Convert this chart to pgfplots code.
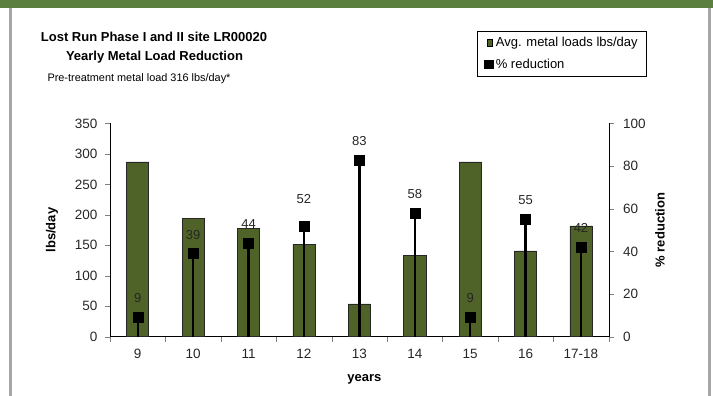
\documentclass[border=0pt]{standalone}
\usepackage{fontspec}
\setmainfont{Liberation Sans}
\usepackage{pgfplots}
\pgfplotsset{compat=1.18}
\definecolor{barolive}{HTML}{4F6228}
\definecolor{topgreen}{HTML}{5B7F3E}
\definecolor{framegray}{HTML}{A6A6A6}

\pgfplotsset{
  common/.style={
    at={(110pt,59.3pt)}, anchor=south west,
    scale only axis, width=498.7pt, height=213.2pt,
    xmin=-0.5, xmax=8.5,
    tick align=outside,
    major tick length=5pt,
    /pgf/number format/assume math mode=true,
    tick label style={font=\fontsize{13.5}{15}\selectfont, text=black!85},
    label style={font=\fontsize{13}{15}\selectfont\bfseries},
  }
}

\begin{document}
\begin{tikzpicture}[x=1pt,y=1pt]
\path[use as bounding box] (0,0) rectangle (713,396);
\fill[topgreen] (0,388) rectangle (713,396);
\fill[framegray] (9,0) rectangle (12,388);
\fill[framegray] (708,0) rectangle (711,388);

\node[font=\fontsize{13}{15}\selectfont\bfseries] at (154,359.3) {Lost Run Phase I and II site LR00020};
\node[font=\fontsize{13}{15}\selectfont\bfseries] at (154.5,339.3) {Yearly Metal Load Reduction};
\node[font=\fontsize{10.9}{12}\selectfont] at (139,317) {Pre-treatment metal load 316 lbs/day*};

% average metal load, left axis
\begin{axis}[common,
  axis x line*=bottom, axis y line*=left,
  ymin=0, ymax=350, ytick={0,50,...,350},
  xtick={0,...,8}, xticklabels={9,10,11,12,13,14,15,16,17-18},
  major x tick style={draw=none},
  minor xtick={-0.5,0.5,...,8.5}, minor tick length=5pt,
  xticklabel style={yshift=-4pt},
  yticklabel style={xshift=-4pt},
  ylabel={lbs/day}, xlabel={years},
  ylabel style={at={(axis description cs:-0.1163,0.5)}, anchor=center},
  xlabel style={at={(axis description cs:0.51,-0.2017)}, anchor=center},
]
\addplot[ybar, bar width=0.4, fill=barolive, draw=black!85, line width=0.6pt]
  coordinates {(0,287) (1,194) (2,178) (3,152) (4,54) (5,133) (6,287) (7,141) (8,182)};
\end{axis}

% percent reduction, right axis
\begin{axis}[common,
  axis y line*=right, axis x line=none,
  ymin=0, ymax=100, ytick={0,20,...,100},
  xtick=\empty,
  yticklabel style={xshift=6pt},
  ylabel={\% reduction},
  ylabel style={at={(axis description cs:1.1029,0.5)}, anchor=center},
  legend cell align=left,
  legend style={at={(axis description cs:0.736,1.434)}, anchor=north west,
    draw=black, line width=0.8pt, font=\fontsize{13}{15}\selectfont,
    inner xsep=7pt, inner ysep=4pt, row sep=7pt},
]
\addlegendimage{legend image code/.code={\draw[fill=barolive, draw=black, line width=0.5pt] (4pt,-3.5pt) rectangle (9pt,3.5pt);}}
\addlegendentry{Avg. metal loads lbs/day}
\addplot[ycomb, black, line width=2.4pt, mark=square*, mark size=5pt,
  mark options={solid, line width=0.3pt},
  nodes near coords,
  nodes near coords style={font=\fontsize{13}{15}\selectfont, anchor=center, yshift=19pt, text=black!85},
  coordinate style/.condition={\coordindex==3}{yshift=8pt},
  legend image code/.code={\fill[black] (2.5pt,-3.5pt) rectangle (9.5pt,3.5pt);}]
  coordinates {(0,9) (1,39) (2,44) (3,52) (4,83) (5,58) (6,9) (7,55) (8,42)};
\addlegendentry{\% reduction}
\end{axis}
\end{tikzpicture}
\end{document}
